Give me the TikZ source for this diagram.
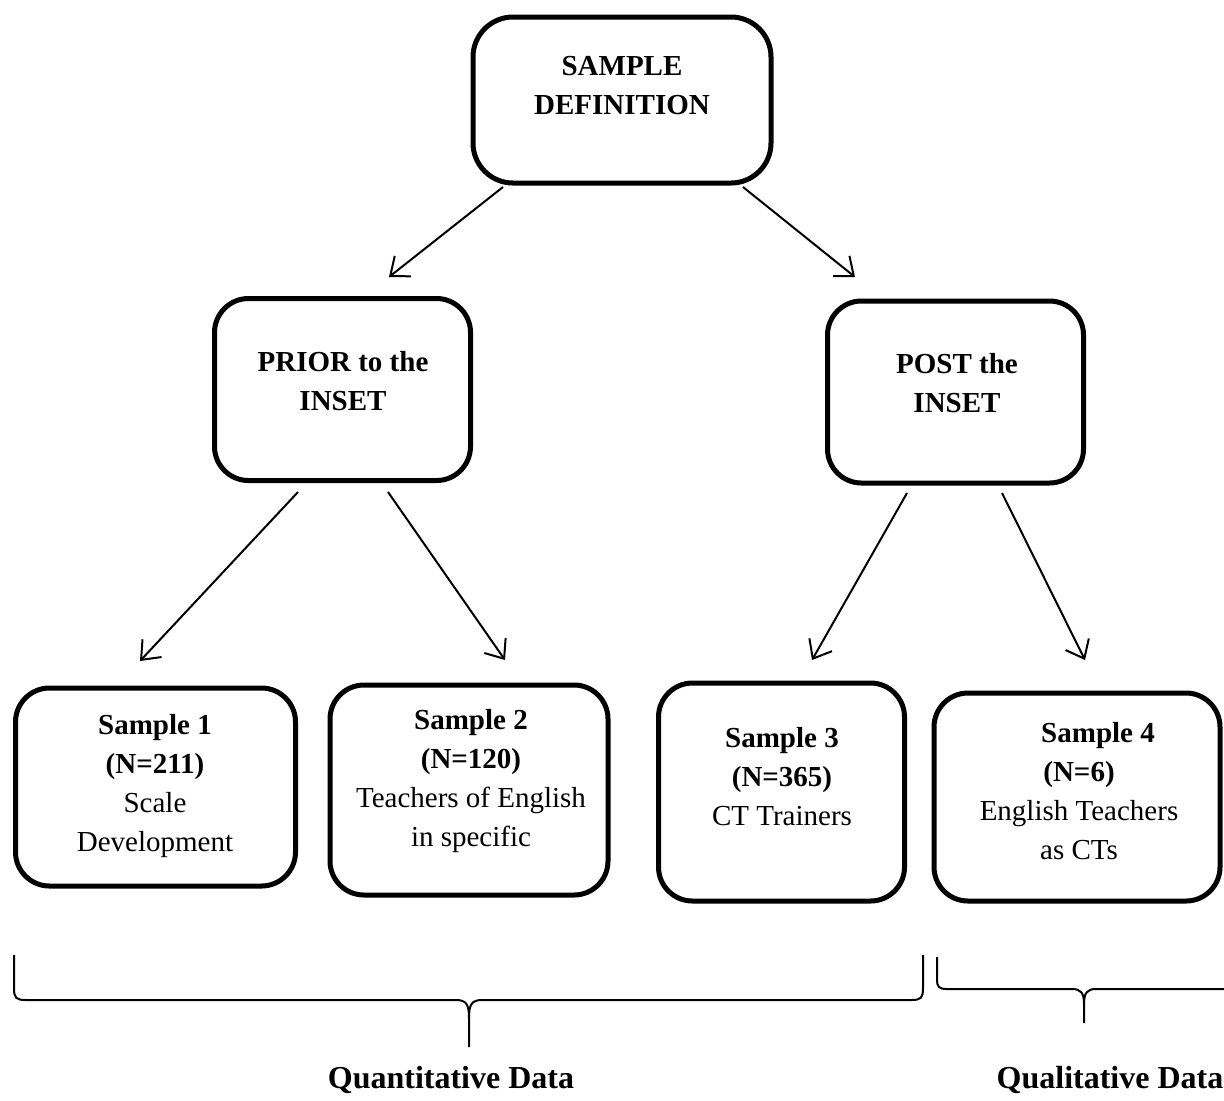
\documentclass[tikz,border=0pt]{standalone}
\usepackage{fontspec}
\setmainfont{Liberation Serif}
\usetikzlibrary{arrows.meta}
\tikzset{
  box/.style 2 args={draw, line width=2.5pt, rounded corners=17pt, minimum width=#1, minimum height=#2, inner sep=0pt},
  txt/.style={align=center, font=\fontsize{14.5}{19.5}\selectfont, inner sep=0pt},
  lbl/.style={font=\fontsize{16}{19}\selectfont\bfseries, inner sep=0pt},
  arr/.style={-{Straight Barb[length=8pt,width=13pt]}, line width=1pt},
  brace/.style={line width=1pt}
}
\begin{document}
\begin{tikzpicture}[x=0.5pt,y=-0.5pt]
\useasboundingbox (0,0) rectangle (1224,1100);
% boxes
\node[box={149pt}{83pt}, rounded corners=20pt] (top) at (622,100) {};
\node[box={128pt}{91pt}] (prior) at (342.5,389.5) {};
\node[box={128pt}{91pt}] (post) at (955.5,392) {};
\node[box={140pt}{99pt}] (s1) at (155.5,787) {};
\node[box={139pt}{105pt}] (s2) at (469,790) {};
\node[box={123pt}{109pt}] (s3) at (781.5,792) {};
\node[box={143pt}{104pt}] (s4) at (1077,797) {};
% texts
\node[txt] (topt) at (622,86) {\textbf{SAMPLE}\\\textbf{DEFINITION}};
\node[txt] (priort) at (343,381) {\textbf{PRIOR to the}\\\textbf{INSET}};
\node[txt] (postt) at (957,383) {\textbf{POST the}\\\textbf{INSET}};
\node[txt] (s1t) at (155,786) {\textbf{Sample 1}\\\textbf{(N=211)}\\Scale\\Development};
\node[txt] (s2t) at (471,781) {\textbf{Sample 2}\\\textbf{(N=120)}\\Teachers of English\\in specific};
\node[txt] (s3t) at (782,777) {\textbf{Sample 3}\\\textbf{(N=365)}\\CT Trainers};
\node[txt] (s4t) at (1079,791) {\hspace*{19pt}\textbf{Sample 4}\\\textbf{(N=6)}\hspace*{40pt}\\English Teachers\\as CTs};
% arrow ends
\coordinate (a1s) at (503,187); \coordinate (a1e) at (389,277);
\coordinate (a2s) at (743,187); \coordinate (a2e) at (855,277);
\coordinate (a3s) at (298,492); \coordinate (a3e) at (140,661);
\coordinate (a4s) at (388,492); \coordinate (a4e) at (505,660);
\coordinate (a5s) at (907,493); \coordinate (a5e) at (812,660);
\coordinate (a6s) at (1002,493); \coordinate (a6e) at (1085,660);
\draw[arr] (a1s) -- (a1e);
\draw[arr] (a2s) -- (a2e);
\draw[arr] (a3s) -- (a3e);
\draw[arr] (a4s) -- (a4e);
\draw[arr] (a5s) -- (a5e);
\draw[arr] (a6s) -- (a6e);
% braces
\coordinate (b1) at (14,955);
\coordinate (b1m) at (469,1047);
\coordinate (b1r) at (923,955);
\draw[brace] (b1) -- (14,988) .. controls (14,998) and (16,1000) .. (26,1000) -- (456,1000)
  .. controls (466,1000) and (469,1004) .. (469,1018) -- (b1m);
\draw[brace] (469,1018) .. controls (469,1004) and (472,1000) .. (482,1000) -- (911,1000)
  .. controls (921,1000) and (923,998) .. (923,988) -- (b1r);
\coordinate (b2) at (937,957);
\coordinate (b2m) at (1084,1023);
\draw[brace] (b2) -- (937,979) .. controls (937,987) and (939,989) .. (947,989) -- (1072,989)
  .. controls (1081,989) and (1084,993) .. (1084,1004) -- (b2m);
\draw[brace] (1084,1004) .. controls (1084,993) and (1087,989) .. (1096,989) -- (1226,989);
\node[lbl] (quant) at (451,1080) {Quantitative Data};
\node[lbl] (qual) at (1110,1080) {Qualitative Data};
\end{tikzpicture}
\end{document}
